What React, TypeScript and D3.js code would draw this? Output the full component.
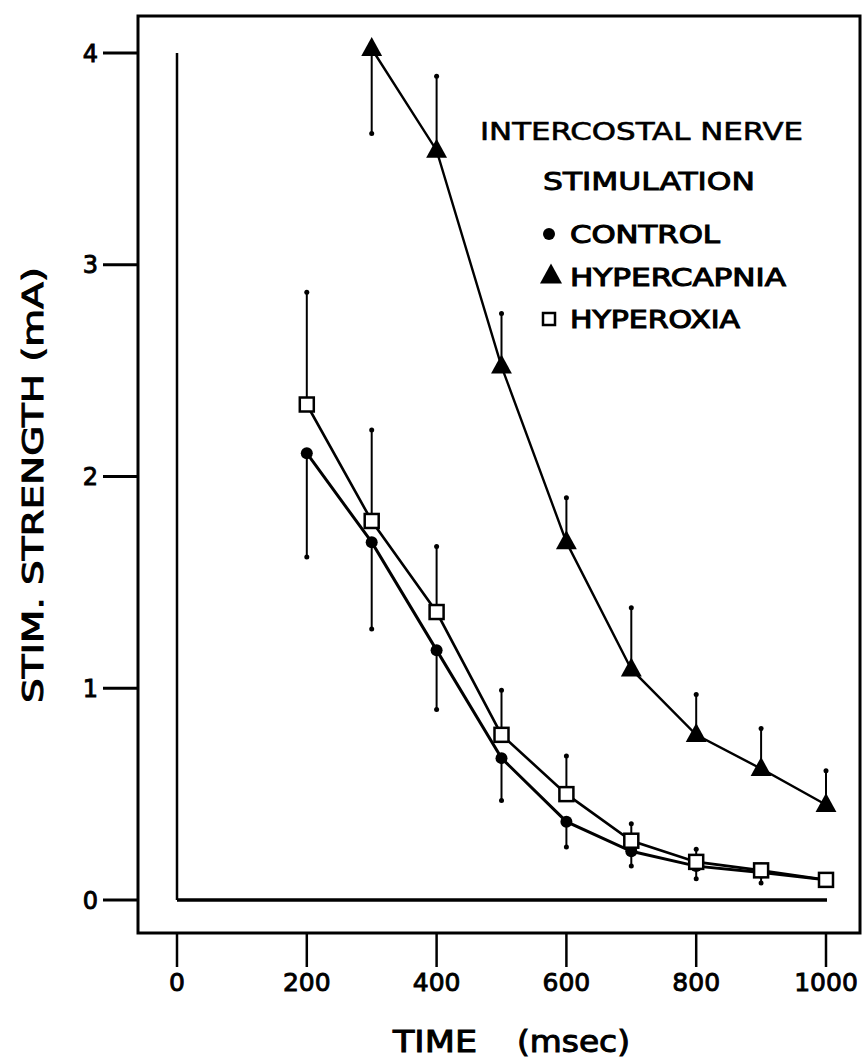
import React from "react";
import * as d3 from "d3";

const controlTimes = [200, 300, 400, 500, 600, 700, 800, 900, 1000];
const controlValues = [2.11, 1.69, 1.18, 0.67, 0.37, 0.23, 0.16, 0.13, 0.095];
const controlLow = [1.62, 1.28, 0.9, 0.47, 0.25, 0.16, 0.1, 0.08, 0.095];

const hyperoxiaTimes = [200, 300, 400, 500, 600, 700, 800, 900, 1000];
const hyperoxiaValues = [2.34, 1.79, 1.36, 0.78, 0.5, 0.28, 0.18, 0.14, 0.095];
const hyperoxiaHigh = [2.87, 2.22, 1.67, 0.99, 0.68, 0.36, 0.24, 0.165, 0.095];

const hypercapniaTimes = [300, 400, 500, 600, 700, 800, 900, 1000];
const hypercapniaValues = [4.02, 3.54, 2.52, 1.69, 1.09, 0.78, 0.62, 0.45];
const hypercapniaBarEnd = [3.62, 3.89, 2.77, 1.9, 1.38, 0.97, 0.81, 0.61];

const xTicks = [0, 200, 400, 600, 800, 1000];
const yTicks = [0, 1, 2, 3, 4];

const legendTitle = ["INTERCOSTAL NERVE", "STIMULATION"];
const legendLabels = ["CONTROL", "HYPERCAPNIA", "HYPEROXIA"];
const xTitle = ["TIME", "(msec)"];
const yTitle = "STIM. STRENGTH (mA)";

export default function App() {
  const W = 864, H = 1060;
  const x = d3.scaleLinear().domain([0, 1000]).range([177, 826]);
  const y = d3.scaleLinear().domain([0, 4]).range([900, 53]);
  const line = d3.line<[number, number]>().x(d => x(d[0])).y(d => y(d[1]));
  const font = "'DejaVu Sans', 'Liberation Sans', sans-serif";
  const txt = { fontFamily: font, fill: "#000", stroke: "#000", strokeWidth: 0.9 } as const;

  const frame = { l: 138, t: 16, r: 860, b: 933 };

  const tri = (cx: number, cy: number, s: number) =>
    `M${cx},${cy - s * 0.62} L${cx + s * 0.55},${cy + s * 0.38} L${cx - s * 0.55},${cy + s * 0.38} Z`;

  const cPts = controlTimes.map((t, i) => [t, controlValues[i]] as [number, number]);
  const oPts = hyperoxiaTimes.map((t, i) => [t, hyperoxiaValues[i]] as [number, number]);
  const hPts = hypercapniaTimes.map((t, i) => [t, hypercapniaValues[i]] as [number, number]);

  return (
    <svg width={W} height={H} style={{ position: "absolute", left: 0, top: 0, background: "#fff" }}>
      <rect x={0} y={0} width={W} height={H} fill="#fff" />
      {/* outer frame */}
      <rect x={frame.l} y={frame.t} width={frame.r - frame.l} height={frame.b - frame.t}
        fill="none" stroke="#000" strokeWidth={3} />
      {/* inner axes */}
      <line x1={x(0)} x2={x(0)} y1={y(4)} y2={y(0)} stroke="#000" strokeWidth={2.5} />
      <line x1={x(0)} x2={x(1000) + 1} y1={y(0)} y2={y(0)} stroke="#000" strokeWidth={3.5} />

      {/* y ticks */}
      {yTicks.map(v => (
        <g key={"yt" + v}>
          <line x1={103} x2={frame.l} y1={y(v)} y2={y(v)} stroke="#000" strokeWidth={3} />
          <text x={98} y={y(v)} dy="0.36em" textAnchor="end" fontSize={24} {...txt}>{v}</text>
        </g>
      ))}
      {/* x ticks */}
      {xTicks.map(t => (
        <g key={"xt" + t}>
          <line x1={x(t)} x2={x(t)} y1={frame.b} y2={967} stroke="#000" strokeWidth={2.5} />
          <text x={x(t)} y={991} textAnchor="middle" fontSize={25} {...txt}>{t}</text>
        </g>
      ))}

      {/* axis titles */}
      <text x={393} y={1052} fontSize={30} {...txt} strokeWidth={1}
        textLength={84} lengthAdjust="spacingAndGlyphs">{xTitle[0]}</text>
      <text x={517} y={1052} fontSize={30} {...txt} strokeWidth={1}
        textLength={113} lengthAdjust="spacingAndGlyphs">{xTitle[1]}</text>
      <text transform={`translate(43,485) rotate(-90)`} textAnchor="middle" fontSize={29} {...txt} strokeWidth={1}
        textLength={436} lengthAdjust="spacingAndGlyphs">{yTitle}</text>

      {/* error bars */}
      {controlTimes.map((t, i) => (
        <g key={"ce" + t}>
          <line x1={x(t)} x2={x(t)} y1={y(controlValues[i])} y2={y(controlLow[i])} stroke="#000" strokeWidth={2} />
          <circle cx={x(t)} cy={y(controlLow[i])} r={2.5} fill="#000" />
        </g>
      ))}
      {hyperoxiaTimes.map((t, i) => (
        <g key={"oe" + t}>
          <line x1={x(t)} x2={x(t)} y1={y(hyperoxiaValues[i])} y2={y(hyperoxiaHigh[i])} stroke="#000" strokeWidth={2} />
          <circle cx={x(t)} cy={y(hyperoxiaHigh[i])} r={2.5} fill="#000" />
        </g>
      ))}
      {hypercapniaTimes.map((t, i) => (
        <g key={"he" + t}>
          <line x1={x(t)} x2={x(t)} y1={y(hypercapniaValues[i])} y2={y(hypercapniaBarEnd[i])} stroke="#000" strokeWidth={2} />
          <circle cx={x(t)} cy={y(hypercapniaBarEnd[i])} r={2.5} fill="#000" />
        </g>
      ))}

      {/* lines */}
      <path d={line(cPts) || ""} fill="none" stroke="#000" strokeWidth={3} />
      <path d={line(oPts) || ""} fill="none" stroke="#000" strokeWidth={2.6} />
      <path d={line(hPts) || ""} fill="none" stroke="#000" strokeWidth={2.4} />

      {/* markers */}
      {cPts.map(p => (
        <circle key={"cm" + p[0]} cx={x(p[0])} cy={y(p[1])} r={6} fill="#000" />
      ))}
      {oPts.map(p => (
        <rect key={"om" + p[0]} x={x(p[0]) - 7} y={y(p[1]) - 7} width={14} height={14}
          fill="#fff" stroke="#000" strokeWidth={2.5} />
      ))}
      {hPts.map(p => (
        <path key={"hm" + p[0]} d={tri(x(p[0]), y(p[1]), 19)} fill="#000" />
      ))}

      {/* legend */}
      <text x={480} y={140} fontSize={24} {...txt} strokeWidth={0.6} textLength={323} lengthAdjust="spacingAndGlyphs">{legendTitle[0]}</text>
      <text x={543} y={190} fontSize={24} {...txt} textLength={212} lengthAdjust="spacingAndGlyphs">{legendTitle[1]}</text>
      <circle cx={549} cy={234} r={6} fill="#000" />
      <text x={570} y={243} fontSize={25} {...txt} strokeWidth={1.1} textLength={150} lengthAdjust="spacingAndGlyphs">{legendLabels[0]}</text>
      <path d={tri(551, 276, 20)} fill="#000" />
      <text x={570} y={286} fontSize={25} {...txt} strokeWidth={1.1} textLength={216} lengthAdjust="spacingAndGlyphs">{legendLabels[1]}</text>
      <rect x={543} y={313} width={12} height={12} fill="#fff" stroke="#000" strokeWidth={2.5} />
      <text x={570} y={328} fontSize={25} {...txt} strokeWidth={1.1} textLength={170} lengthAdjust="spacingAndGlyphs">{legendLabels[2]}</text>
    </svg>
  );
}
